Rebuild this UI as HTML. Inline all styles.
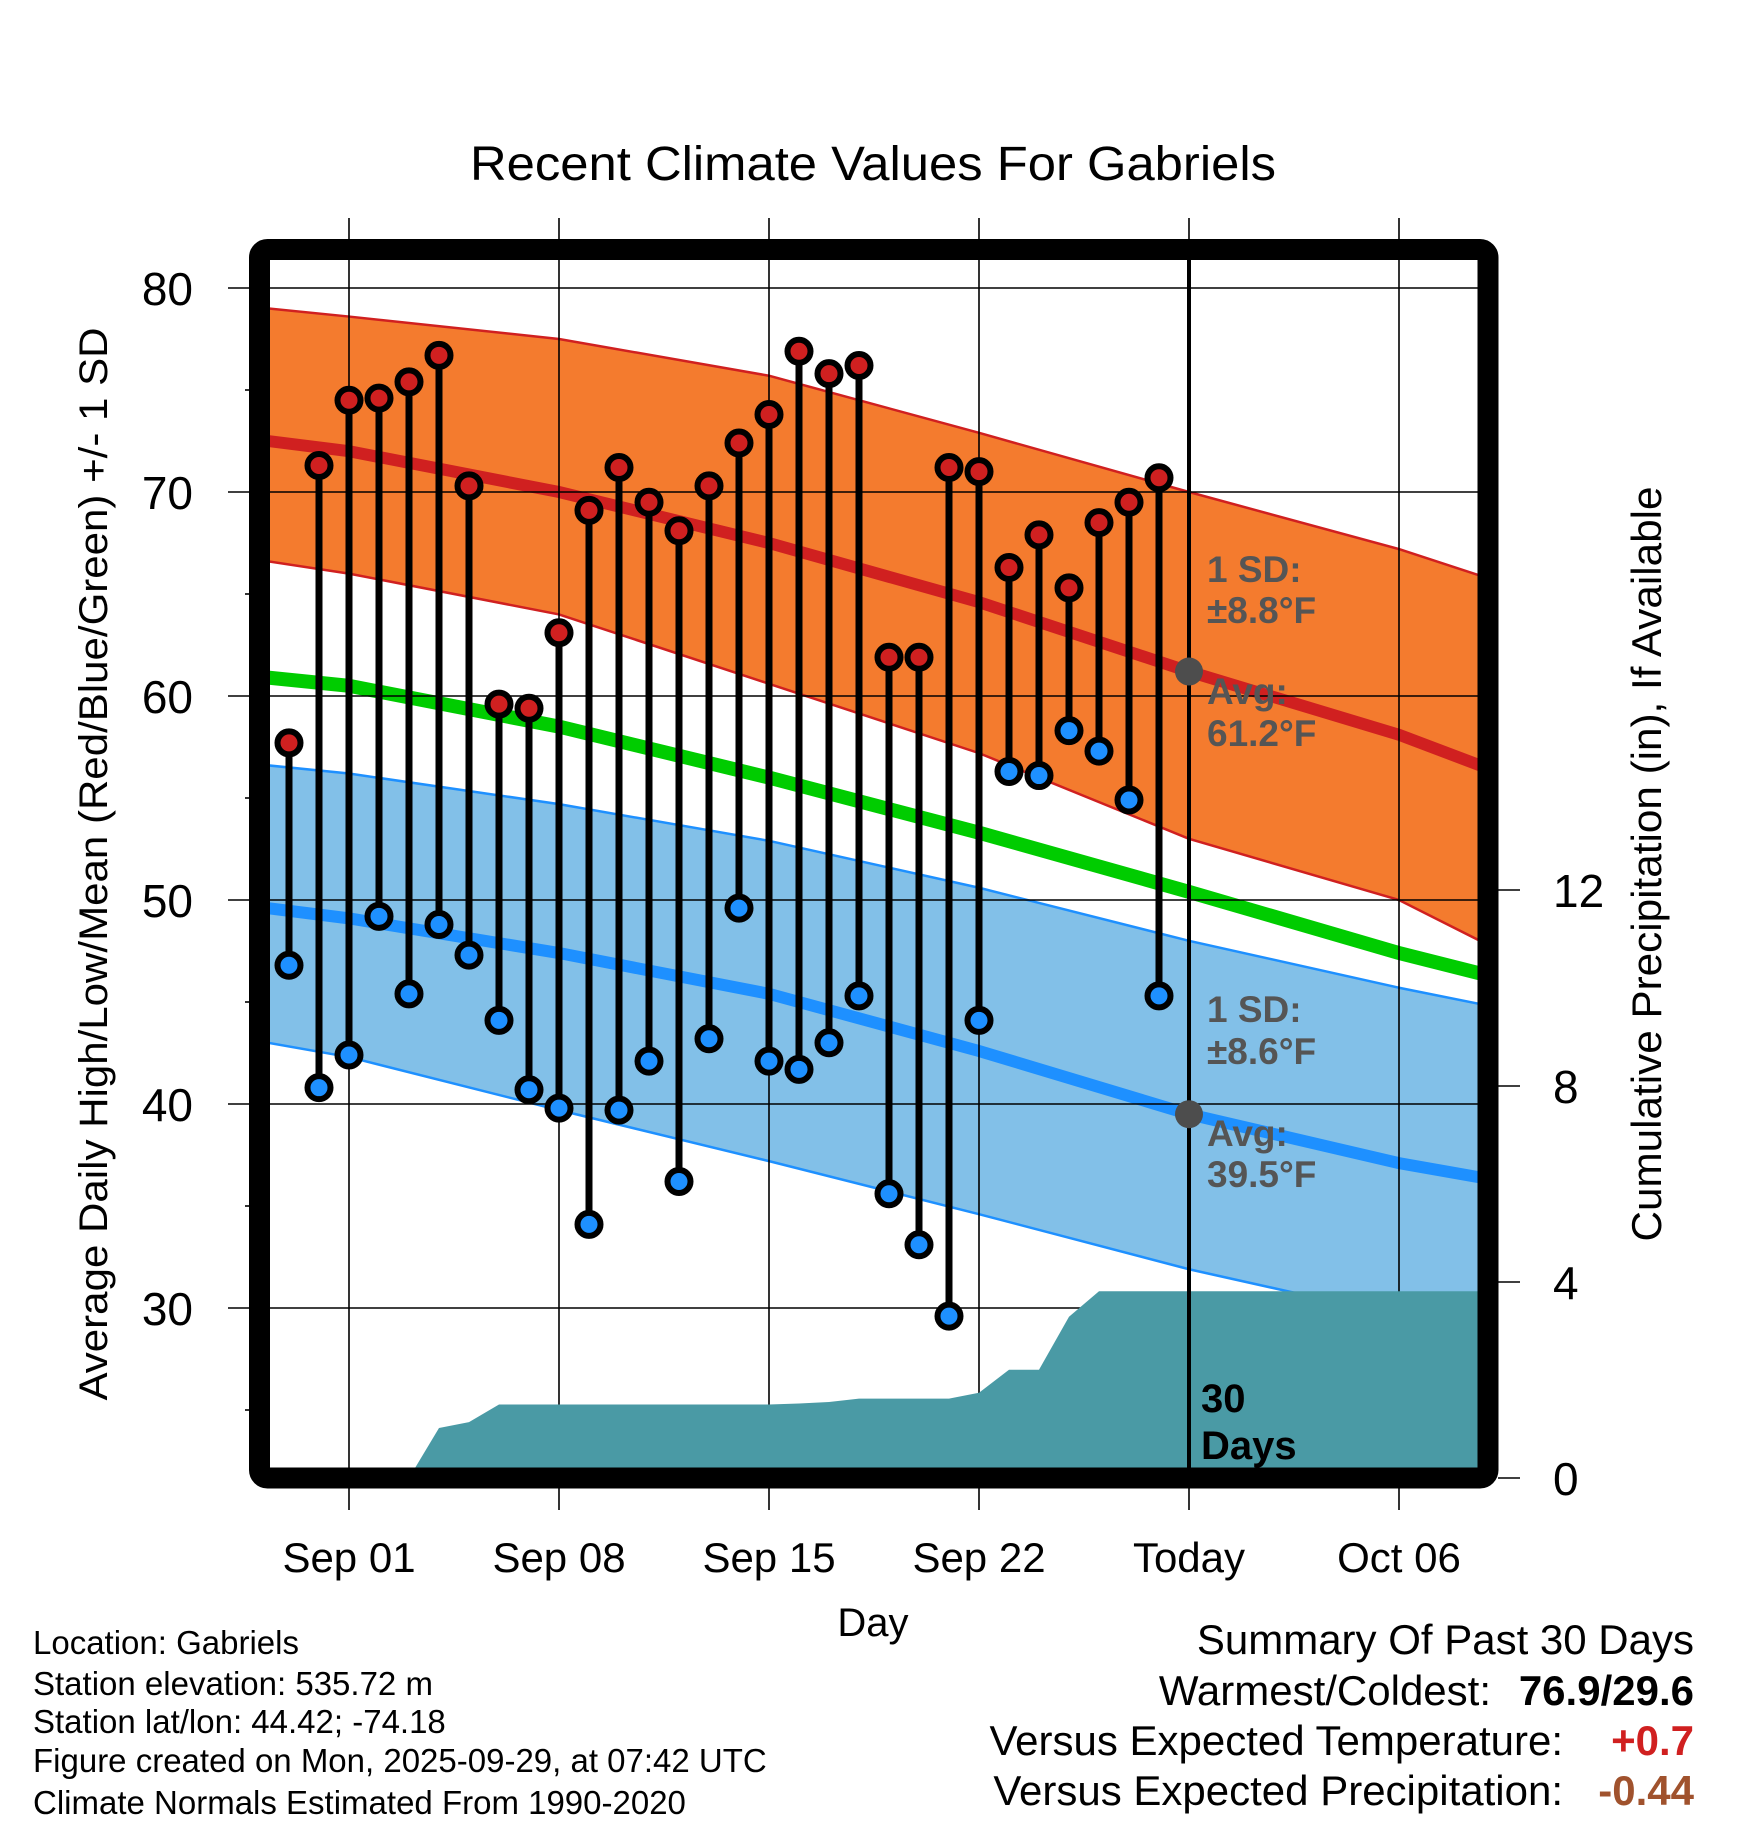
<!DOCTYPE html>
<html><head><meta charset="utf-8"><style>
html,body{margin:0;padding:0;background:#fff;}
svg{display:block;font-family:"Liberation Sans",Arial,sans-serif;}
</style></head><body>
<svg id="chart" width="1748" height="1828" viewBox="0 0 1748 1828" xmlns="http://www.w3.org/2000/svg">
<defs><clipPath id="plotclip"><rect x="270" y="260" width="1208" height="1208"/></clipPath></defs>
<g id="fills" clip-path="url(#plotclip)"></g>
<g id="grid"></g>
<g id="precip" clip-path="url(#plotclip)"></g>
<g id="marks"></g>
<g id="labels"></g>
</svg>
<script>
// ---- data ----
const dayLabels = ["Sep 01","Sep 08","Sep 15","Sep 22","Today","Oct 06"];
const dayTicks = [0,7,14,21,28,35];
const yTicks = [30,40,50,60,70,80];
const pTicks = [0,4,8,12];
const obsDays = [-2,-1,0,1,2,3,4,5,6,7,8,9,10,11,12,13,14,15,16,17,18,19,20,21,22,23,24,25,26,27];
const highs = [57.7,71.3,74.5,74.6,75.4,76.7,70.3,59.6,59.4,63.1,69.1,71.2,69.5,68.1,70.3,72.4,73.8,76.9,75.8,76.2,61.9,61.9,71.2,71.0,66.3,67.9,65.3,68.5,69.5,70.7];
const lows = [46.8,40.8,42.4,49.2,45.4,48.8,47.3,44.1,40.7,39.8,34.1,39.7,42.1,36.2,43.2,49.6,42.1,41.7,43.0,45.3,35.6,33.1,29.6,44.1,56.3,56.1,58.3,57.3,54.9,45.3];
const precipCum = [0,0,0,0,0,1.02,1.14,1.50,1.50,1.50,1.50,1.50,1.50,1.50,1.50,1.50,1.50,1.52,1.55,1.62,1.62,1.62,1.62,1.74,2.21,2.21,3.29,3.81,3.81,3.81];
const normDays = [-2.7,0,7,14,21,28,35,37.7];
const redUpper = [79.0,78.6,77.5,75.7,72.9,70.0,67.2,65.9];
const redMean  = [72.5,72.0,70.0,67.5,64.6,61.2,58.1,56.6];
const redLower = [66.6,66.0,64.0,60.6,57.2,53.0,50.0,48.0];
const greenMean= [60.9,60.5,58.5,56.0,53.3,50.4,47.4,46.4];
const blueUpper= [56.6,56.2,54.7,52.9,50.6,48.0,45.7,44.9];
const blueMean = [49.6,49.1,47.4,45.4,42.6,39.5,37.1,36.4];
const blueLower= [43.0,42.3,39.7,37.2,34.6,31.9,29.6,28.8];
const todayDay = 28;
const todayHighAvg = 61.2, todayLowAvg = 39.5;

// ---- scales ----
const xS = d => 349 + 30*d;
const yT = t => 288 + (80 - t)*20.4;
const yP = p => 1478 - p*49;
const NS = "http://www.w3.org/2000/svg";
function mk(parent, tag, attrs, txt){
  const e = document.createElementNS(NS, tag);
  for (const k in attrs) e.setAttribute(k, attrs[k]);
  if (txt !== undefined) e.textContent = txt;
  document.getElementById(parent).appendChild(e);
  return e;
}
const pts = arr => normDays.map((d,i)=>xS(d)+","+yT(arr[i])).join(" ");
const band = (up, lo) => pts(up) + " " + normDays.map((d,i)=>[xS(d),yT(lo[i])]).reverse().map(p=>p.join(",")).join(" ");

let e;
e = mk("fills","polygon",{points:band(redUpper,redLower),fill:"#f47b2e"});
 
e = mk("fills","polygon",{points:band(blueUpper,blueLower),fill:"#82c0e8"});
 
[[redUpper,"#d02020",2.5],[redLower,"#d02020",2.5],[blueUpper,"#1e90ff",2.5],[blueLower,"#1e90ff",2.5]].forEach(a=>{
  e = mk("fills","polyline",{points:pts(a[0]),fill:"none",stroke:a[1],"stroke-width":a[2]});
   
});
e = mk("fills","polyline",{points:pts(redMean),fill:"none",stroke:"#d02020","stroke-width":12});
 
e = mk("fills","polyline",{points:pts(greenMean),fill:"none",stroke:"#00cc00","stroke-width":14});
 
e = mk("fills","polyline",{points:pts(blueMean),fill:"none",stroke:"#1e90ff","stroke-width":12});
 

yTicks.forEach(t=>{
  e = mk("grid","line",{x1:228,x2:1478,y1:yT(t),y2:yT(t),stroke:"#000","stroke-width":1.6});
   
  e = mk("labels","text",{x:193,y:yT(t)+17,"text-anchor":"end","font-size":46},String(t));
   
  if (t>30){
    e = mk("grid","line",{x1:245,x2:249,y1:yT(t-5),y2:yT(t-5),stroke:"#000","stroke-width":1.6});
     
  }
});
e = mk("grid","line",{x1:245,x2:249,y1:yT(25),y2:yT(25),stroke:"#000","stroke-width":1.6});
 
dayTicks.forEach((d,i)=>{
  e = mk("grid","line",{x1:xS(d),x2:xS(d),y1:218,y2:1510,stroke:"#000","stroke-width":1.6});
   
  e = mk("labels","text",{x:xS(d),y:1572,"text-anchor":"middle","font-size":42},dayLabels[i]);
   
});
pTicks.forEach(p=>{
  e = mk("grid","line",{x1:1498,x2:1520,y1:yP(p),y2:yP(p),stroke:"#000","stroke-width":1.6});
   
  e = mk("labels","text",{x:1553,y:yP(p)+17,"text-anchor":"start","font-size":46},String(p));
   
});

let pp = [];
pp.push(xS(obsDays[0])+","+yP(0));
obsDays.forEach((d,i)=>pp.push(xS(d)+","+yP(precipCum[i])));
pp.push("1480,"+yP(precipCum[precipCum.length-1]));
pp.push("1480,"+yP(0));
e = mk("precip","polygon",{points:pp.join(" "),fill:"#4a9aa5"});
 

e = mk("marks","line",{x1:xS(todayDay),x2:xS(todayDay),y1:258,y2:1470,stroke:"#000","stroke-width":4});
 
[todayHighAvg,todayLowAvg].forEach(v=>{
  e = mk("marks","circle",{cx:xS(todayDay),cy:yT(v),r:14,fill:"#4d4d4d"});
   
});

obsDays.forEach((d,i)=>{
  e = mk("marks","line",{x1:xS(d),x2:xS(d),y1:yT(highs[i]),y2:yT(lows[i]),stroke:"#000","stroke-width":7});
   
});
obsDays.forEach((d,i)=>{
  e = mk("marks","circle",{cx:xS(d),cy:yT(highs[i]),r:11.5,fill:"#d02020",stroke:"#000","stroke-width":6});
   
  e = mk("marks","circle",{cx:xS(d),cy:yT(lows[i]),r:11.5,fill:"#1e90ff",stroke:"#000","stroke-width":6});
   
});

e = mk("marks","rect",{x:259.5,y:249.5,width:1228.5,height:1228.5,fill:"none",stroke:"#000","stroke-width":21,rx:8});
 
</script>
<script>
(function(){
const NS="http://www.w3.org/2000/svg";
const svg=document.getElementById("labels");
function t(name,x,y,size,txt,opts){
  const e=document.createElementNS(NS,"text");
  e.setAttribute("x",x);e.setAttribute("y",y);e.setAttribute("font-size",size);
  for(const k in (opts||{})) e.setAttribute(k,opts[k]);
  e.textContent=txt;
  
  
  svg.appendChild(e);return e;
}
t("chart-title",873,180,48,"Recent Climate Values For Gabriels",{"text-anchor":"middle",textLength:806,lengthAdjust:"spacingAndGlyphs"});
t("x-axis-title",873,1636,40,"Day",{"text-anchor":"middle"});
t("y-axis-title",0,0,40,"Average Daily High/Low/Mean (Red/Blue/Green) +/- 1 SD",{"text-anchor":"middle",transform:"translate(107,864) rotate(-90)",textLength:1073,lengthAdjust:"spacingAndGlyphs"});
t("precip-axis-title",0,0,42,"Cumulative Precipitation (in), If Available",{"text-anchor":"middle",transform:"translate(1661,864) rotate(-90)",textLength:755,lengthAdjust:"spacingAndGlyphs"});
const g={fill:"#555","font-weight":"bold"};
t("high-sd-label",1207,582,37,"1 SD:",g);
t("high-sd-value",1207,623,37,"±8.8°F",g);
t("high-avg-label",1207,704,37,"Avg:",g);
t("high-avg-value",1207,746,37,"61.2°F",g);
t("low-sd-label",1207,1022,37,"1 SD:",g);
t("low-sd-value",1207,1064,37,"±8.6°F",g);
t("low-avg-label",1207,1146,37,"Avg:",g);
t("low-avg-value",1207,1187,37,"39.5°F",g);
t("days-label-30",1201,1412,40,"30",{"font-weight":"bold"});
t("days-label",1201,1459,40,"Days",{"font-weight":"bold"});
const f=[["location","Location: Gabriels",1654],["elevation","Station elevation: 535.72 m",1695],["latlon","Station lat/lon: 44.42; -74.18",1733],["created","Figure created on Mon, 2025-09-29, at 07:42 UTC",1772],["normals","Climate Normals Estimated From 1990-2020",1814]];
f.forEach(a=>t(a[0]+"-note",33,a[2],33,a[1]));
t("summary-title",1694,1654,42,"Summary Of Past 30 Days",{"text-anchor":"end"});
t("warmest-label",1491,1705,42,"Warmest/Coldest:",{"text-anchor":"end"});
t("warmest-value",1694,1705,42,"76.9/29.6",{"text-anchor":"end","font-weight":"bold"});
t("temp-anomaly-label",1563,1755,42,"Versus Expected Temperature:",{"text-anchor":"end"});
t("temp-anomaly-value",1694,1755,42,"+0.7",{"text-anchor":"end","font-weight":"bold",fill:"#d02020"});
t("precip-anomaly-label",1563,1805,42,"Versus Expected Precipitation:",{"text-anchor":"end"});
t("precip-anomaly-value",1694,1805,42,"-0.44",{"text-anchor":"end","font-weight":"bold",fill:"#a0522d"});
})();
</script>
</body></html>
